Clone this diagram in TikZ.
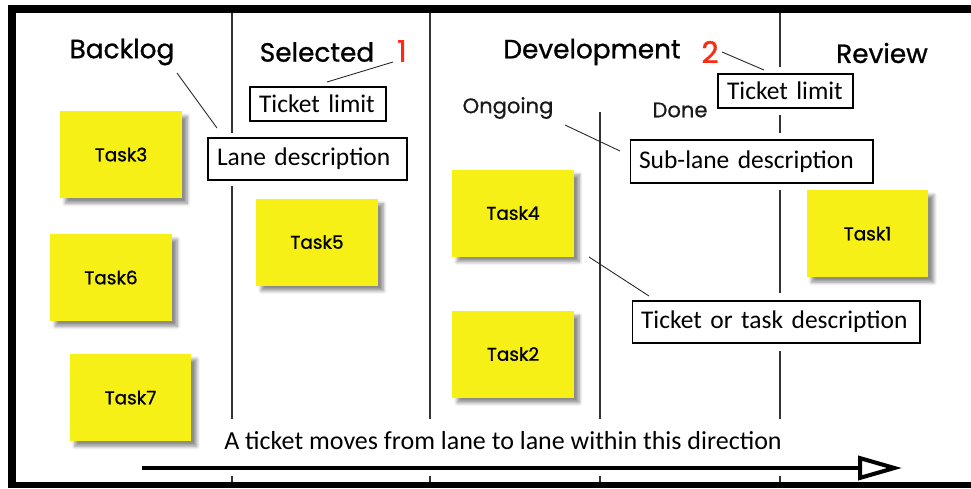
\documentclass[tikz,border=0pt]{standalone}
\usepackage{fontspec}
\setmainfont{Carlito}
\newfontfamily\handfont[FakeBold=1]{Poppins}
\newfontfamily\handfontlight[FakeBold=0.6]{Poppins}
\usetikzlibrary{arrows.meta,shadows.blur,positioning}

\definecolor{taskyellow}{RGB}{246,240,22}
\definecolor{limitred}{RGB}{250,45,20}

\tikzset{
	lane/.style={line width=0.8pt,color=black!80},
	heading/.style={font=\handfont\fontsize{15}{18}\selectfont},
	sublane/.style={font=\handfontlight\fontsize{12}{14}\selectfont,color=black!90},
	limitnum/.style={font=\handfont\fontsize{17}{20}\selectfont,text=limitred},
	task/.style={fill=taskyellow,minimum width=2.44cm,minimum height=1.74cm,inner sep=0pt,
		font=\handfont\fontsize{10.5}{12}\selectfont,
		blur shadow={shadow xshift=3pt,shadow yshift=-3pt,shadow blur steps=6,shadow opacity=45}},
	note/.style={draw,line width=0.6pt,fill=white,inner xsep=0.18cm,inner ysep=0pt,
		text width=#1,align=left,font=\fontsize{14.5}{16}\selectfont},
	callout/.style={line width=0.5pt,color=black!85},
}

\begin{document}
\begin{tikzpicture}[x=0.02cm,y=-0.02cm]
	\useasboundingbox (0,0) rectangle (971,488);
	% frame, open on the right
	\fill [black] (8,5) rectangle (971,13);
	\fill [black] (8,5) rectangle (16,488);
	\fill [black] (8,482) rectangle (971,488);
	% lane separators
	\draw [lane] (232,13) -- (232,133) (232,186) -- (232,419) (232,476) -- (232,482);
	\draw [lane] (430,13) -- (430,419) (430,476) -- (430,482);
	\draw [lane] (600,112) -- (600,419) (600,476) -- (600,482);
	\draw [lane] (780,13) -- (780,67) (780,115) -- (780,133) (780,190) -- (780,293)
		(780,351) -- (780,419) (780,476) -- (780,482);
	% lane headings
	\node [heading] at (122,52) (backlog) {Backlog};
	\node [heading] at (317,52) (selected) {Selected};
	\node [heading] at (592,52) (development) {Development};
	\node [heading] at (882,53) (review) {Review};
	\node [limitnum] at (402,51) (limitone) {1};
	\node [limitnum] at (710,52) (limittwo) {2};
	\node [sublane] at (508,108) (ongoing) {Ongoing};
	\node [sublane] at (680,110) (done) {Done};
	% tickets
	\foreach \n/\x/\y in {3/121/154.5, 6/111/277.5, 7/130.5/397.5, 5/317/242, 4/513/213, 2/513/354, 1/867.5/233.5}{
		\node [task] at (\x,\y) (task\n) {Task\n};
	}
	% explanations
	\node [note=2.36cm,minimum height=0.68cm] at (318,104) (selectedlimit) {Ticket limit};
	\node [note=3.62cm,minimum height=0.84cm] at (307.5,159) (lanedesc) {Lane description};
	\node [note=2.34cm,minimum height=0.68cm] at (785.5,91) (devlimit) {Ticket limit};
	\node [note=4.5cm,minimum height=0.86cm] at (751.5,161.5) (sublanedesc) {Sub-lane description};
	\node [note=5.4cm,minimum height=0.84cm] at (776,322) (taskdesc) {Ticket or task description};
	\coordinate (backlogtip) at (177,73);   \coordinate (lanetip) at (217,128);
	\coordinate (onetip) at (393,62);       \coordinate (selectedtip) at (327,82);
	\coordinate (twotip) at (722,52);       \coordinate (devtip) at (764,70);
	\coordinate (ongoingtip) at (565,125);  \coordinate (subtip) at (620,151);
	\coordinate (tasktip) at (589,257);     \coordinate (desctip) at (649,296);
	\draw [callout] (backlogtip) -- (lanetip);
	\draw [callout] (onetip) -- (selectedtip);
	\draw [callout] (twotip) -- (devtip);
	\draw [callout] (ongoingtip) -- (subtip);
	\draw [callout] (tasktip) -- (desctip);
	% direction of flow
	\node [font=\fontsize{14.8}{16}\selectfont] at (503,441) (flowtext) {A ticket moves from lane to lane within this direction};
	\coordinate (flowstart) at (142,468);
	\coordinate (flowend) at (902,468);
	\draw [line width=2.3pt,-{Triangle[open,length=0.88cm,width=0.48cm]}] (flowstart) -- (flowend);
\end{tikzpicture}
\end{document}
